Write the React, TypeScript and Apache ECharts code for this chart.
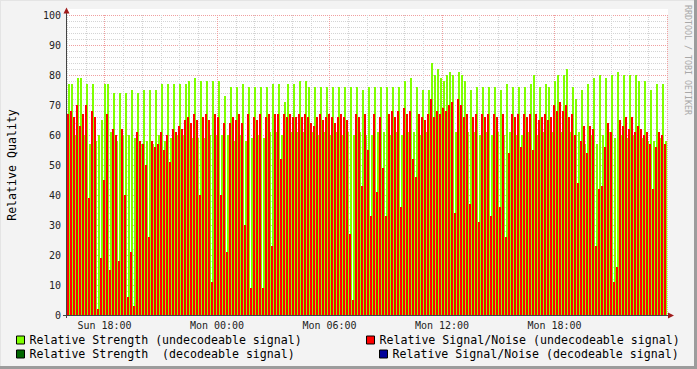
import React, { useEffect, useRef } from "react";
import * as echarts from "echarts";

const FONT = "DejaVu Sans Mono";
const GREEN = "#7fff00";
const RED = "#ff0000";
const DARKGREEN = "#006600";
const BLUE = "#000099";

// minutes per column (time grid starts Sun 16:00)
const STEP = 9.6;
const X_MAX = 1920;

const TICK_VALUES = [120, 480, 840, 1200, 1560];
const TICK_LABELS = ["Sun 18:00", "Mon 00:00", "Mon 06:00", "Mon 12:00", "Mon 18:00"];

const NAME_STRENGTH_U = "Relative Strength (undecodeable signal)";
const NAME_SN_U = "Relative Signal/Noise (undecodeable signal)";
const NAME_STRENGTH_D = "Relative Strength  (decodeable signal)";
const NAME_SN_D = "Relative Signal/Noise (decodeable signal)";

const strengthUndecodeable = [
  77, 77, 60, 79, 79, 60, 77, 57, 77, 58,
  60, 65, 77, 77, 61, 74, 58, 74, 60, 74,
  60, 75, 59, 74, 57, 75, 58, 75, 57, 75,
  60, 77, 58, 77, 59, 77, 60, 77, 60, 77,
  78, 59, 79, 59, 78, 59, 78, 60, 78, 60,
  78, 60, 73, 60, 76, 58, 76, 60, 77, 58,
  76, 59, 76, 60, 76, 59, 76, 61, 77, 61,
  77, 60, 71, 77, 61, 77, 61, 78, 61, 78,
  76, 61, 76, 60, 76, 61, 76, 60, 76, 61,
  76, 60, 76, 61, 76, 60, 76, 61, 75, 60,
  76, 60, 76, 61, 76, 61, 76, 60, 76, 61,
  76, 60, 78, 61, 79, 61, 76, 60, 75, 61,
  75, 84, 80, 82, 79, 78, 80, 81, 80, 61,
  81, 80, 78, 61, 75, 61, 76, 60, 76, 61,
  76, 60, 76, 61, 75, 60, 77, 61, 76, 60,
  76, 60, 76, 61, 77, 80, 60, 76, 61, 77,
  76, 61, 78, 80, 61, 80, 82, 61, 76, 72,
  61, 75, 57, 77, 60, 79, 57, 80, 60, 79,
  61, 80, 59, 81, 60, 80, 59, 80, 60, 80,
  78, 59, 78, 58, 75, 58, 77, 59, 77, 58,
];

const snUndecodeable = [
  67, 68, 66, 70, 63, 67, 70, 39, 68, 66,
  2, 19, 45, 67, 15, 62, 60, 18, 62, 40,
  6, 21, 3, 61, 58, 57, 50, 26, 58, 56,
  57, 61, 55, 60, 51, 62, 61, 63, 62, 65,
  66, 64, 67, 65, 40, 66, 67, 65, 11, 67,
  66, 40, 64, 21, 64, 66, 65, 67, 64, 30,
  67, 9, 66, 65, 67, 9, 66, 67, 23, 67,
  67, 52, 67, 66, 67, 66, 66, 67, 66, 67,
  66, 64, 63, 66, 67, 65, 66, 67, 66, 64,
  66, 67, 66, 65, 27, 5, 67, 66, 43, 67,
  55, 33, 67, 41, 66, 49, 33, 67, 68, 66,
  68, 36, 69, 67, 68, 52, 46, 67, 66, 65,
  67, 72, 66, 68, 67, 69, 68, 70, 71, 34,
  72, 70, 66, 67, 37, 66, 67, 31, 67, 66,
  67, 33, 67, 66, 36, 67, 26, 54, 67, 66,
  67, 56, 67, 66, 67, 55, 67, 65, 66, 67,
  65, 66, 70, 68, 71, 68, 70, 66, 67, 60,
  44, 58, 63, 54, 63, 62, 23, 42, 43, 56,
  64, 61, 11, 16, 65, 63, 66, 62, 66, 61,
  63, 62, 60, 61, 57, 42, 56, 61, 60, 57,
];

const strengthDecodeable: number[] = [];
const snDecodeable: number[] = [];

// offset / width as fractions of one column
function makeRender(color: string, off: number, frac: number) {
  return (params: any, api: any) => {
    const x = api.value(0);
    const v = api.value(1);
    const base = api.coord([x, 0]);
    const top = api.coord([x, v]);
    const w = api.size([STEP, 0])[0];
    const x0 = Math.round(base[0] + w * off);
    const x1 = Math.round(base[0] + w * (off + frac));
    return {
      type: "rect",
      shape: { x: x0, y: top[1], width: x1 - x0, height: base[1] - top[1] },
      style: { fill: color },
    };
  };
}

export default function App() {
  const ref = useRef<HTMLDivElement>(null);
  useEffect(() => {
    if (!ref.current) return;
    const chart = echarts.init(ref.current, null, { renderer: "svg" });
    const legendCommon = {
      orient: "horizontal",
      padding: 0,
      itemWidth: 8,
      itemHeight: 8,
      icon: "rect",
      selectedMode: false,
      itemStyle: { borderColor: "#000", borderWidth: 1 },
      textStyle: { fontFamily: FONT, fontSize: 11.6, color: "#000" },
    };
    const xColors = ["#d4d4d4", "#d4d4d4", "#f0a0a0", "#d4d4d4", "#d4d4d4", "#d4d4d4"];
    const option: any = {
      animation: false,
      backgroundColor: "#f3f3f3",
      textStyle: { fontFamily: FONT },
      grid: {
        left: 67,
        top: 15,
        width: 600,
        height: 300,
        show: true,
        backgroundColor: "#ffffff",
        borderWidth: 0,
        containLabel: false,
        outerBoundsMode: "none",
      },
      xAxis: {
        type: "value",
        min: 0,
        max: X_MAX,
        interval: 60,
        axisLine: { show: false },
        axisTick: { show: false },
        axisLabel: {
          fontFamily: FONT,
          fontSize: 10,
          color: "#222",
          margin: 5,
          formatter: (v: number) => {
            const idx = TICK_VALUES.indexOf(Math.round(v));
            return idx >= 0 ? TICK_LABELS[idx] : "";
          },
        },
        splitLine: { show: true, lineStyle: { color: xColors, type: [1, 1], width: 1 } },
      },
      yAxis: {
        type: "value",
        min: 0,
        max: 100,
        interval: 10,
        name: "Relative Quality",
        nameLocation: "middle",
        nameGap: 49,
        nameRotate: 90,
        nameTextStyle: { fontFamily: FONT, fontSize: 11.6, color: "#000" },
        axisLine: { show: false },
        axisTick: { show: false },
        axisLabel: { fontFamily: FONT, fontSize: 10, color: "#222", margin: 6 },
        splitLine: { show: true, lineStyle: { color: "#f0a0a0", type: [1, 1], width: 1 } },
        minorTick: { show: false, splitNumber: 5 },
        minorSplitLine: { show: true, lineStyle: { color: "#d4d4d4", type: [1, 1], width: 1 } },
      },
      legend: [
        { ...legendCommon, data: [NAME_STRENGTH_U], left: 16, top: 334 },
        { ...legendCommon, data: [NAME_SN_U], left: 366, top: 334 },
        { ...legendCommon, data: [NAME_STRENGTH_D], left: 16, top: 348 },
        { ...legendCommon, data: [NAME_SN_D], left: 379, top: 348 },
      ],
      graphic: [
        { type: "rect", shape: { x: 67, y: 9, width: 601, height: 6 }, style: { fill: "#ffffff" }, silent: true },
        { type: "line", shape: { x1: 0, y1: 0.5, x2: 697, y2: 0.5 }, style: { stroke: "#e4e4e4", lineWidth: 1 } },
        { type: "line", shape: { x1: 0.5, y1: 0, x2: 0.5, y2: 369 }, style: { stroke: "#e4e4e4", lineWidth: 1 } },
        { type: "line", shape: { x1: 0, y1: 367.5, x2: 697, y2: 367.5 }, style: { stroke: "#9c9c9c", lineWidth: 3 } },
        { type: "line", shape: { x1: 695.5, y1: 0, x2: 695.5, y2: 369 }, style: { stroke: "#9c9c9c", lineWidth: 3 } },
        { type: "line", z: 100, shape: { x1: 66.5, y1: 318, x2: 66.5, y2: 12 }, style: { stroke: "#444", lineWidth: 1 } },
        { type: "line", z: 100, shape: { x1: 63, y1: 315.5, x2: 669, y2: 315.5 }, style: { stroke: "#444", lineWidth: 1 } },
        { type: "polygon", z: 100, shape: { points: [[63.5, 13.5], [69.5, 13.5], [66.5, 7.5]] }, style: { fill: "#a01c1c" } },
        { type: "polygon", z: 100, shape: { points: [[668, 312.5], [668, 318.5], [674, 315.5]] }, style: { fill: "#a01c1c" } },
        {
          type: "text",
          x: 688,
          y: 5,
          rotation: -Math.PI / 2,
          style: {
            text: "RRDTOOL / TOBI OETIKER",
            fill: "#a8a8a8",
            fontFamily: FONT,
            fontSize: 8.3,
            textAlign: "left",
            textVerticalAlign: "middle",
          },
        },
      ],
      series: [
        {
          name: NAME_STRENGTH_U,
          type: "custom",
          itemStyle: { color: GREEN },
          encode: { x: 0, y: 1 },
          renderItem: makeRender(GREEN, 1 / 3, 2 / 3),
          data: strengthUndecodeable.map((v, i) => [i * STEP, v]),
        },
        {
          name: NAME_SN_U,
          type: "custom",
          itemStyle: { color: RED },
          encode: { x: 0, y: 1 },
          renderItem: makeRender(RED, 0, 2 / 3),
          data: snUndecodeable.map((v, i) => [i * STEP, v]),
        },
        {
          name: NAME_STRENGTH_D,
          type: "custom",
          itemStyle: { color: DARKGREEN },
          encode: { x: 0, y: 1 },
          renderItem: makeRender(DARKGREEN, 1 / 3, 2 / 3),
          data: strengthDecodeable.map((v, i) => [i * STEP, v]),
        },
        {
          name: NAME_SN_D,
          type: "custom",
          itemStyle: { color: BLUE },
          encode: { x: 0, y: 1 },
          renderItem: makeRender(BLUE, 0, 2 / 3),
          data: snDecodeable.map((v, i) => [i * STEP, v]),
        },
      ],
    };
    chart.setOption(option);
    return () => chart.dispose();
  }, []);
  return (
    <div
      ref={ref}
      style={{ position: "fixed", left: 0, top: 0, width: 697, height: 369 }}
    />
  );
}
